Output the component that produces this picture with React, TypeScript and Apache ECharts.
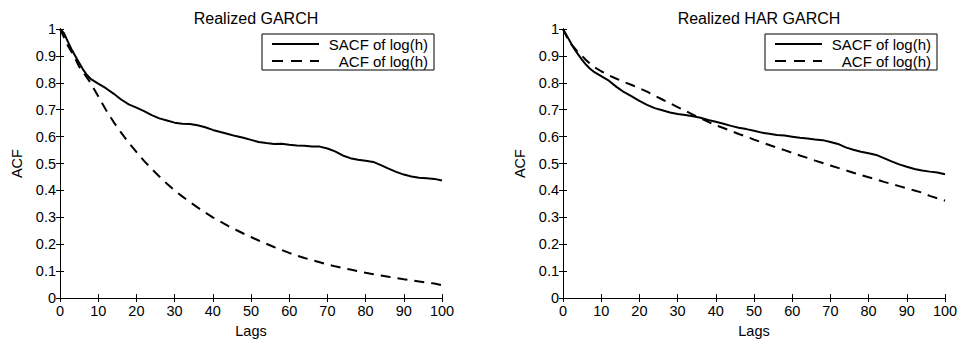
import React, { useEffect, useRef } from "react";
import * as echarts from "echarts";

const lags = [0, 1, 2, 3, 4, 5, 6, 7, 8, 10, 12, 14, 16, 18, 20, 22, 24, 26, 28, 30, 32, 34, 36, 38, 40, 42, 44, 46, 48, 50, 52, 54, 56, 58, 60, 62, 64, 66, 68, 70, 72, 74, 76, 78, 80, 82, 84, 86, 88, 90, 92, 94, 96, 98, 100];

const garchSacf = [1.0, 0.985, 0.955, 0.925, 0.9, 0.875, 0.85, 0.83, 0.815, 0.797, 0.78, 0.76, 0.738, 0.72, 0.708, 0.695, 0.68, 0.668, 0.66, 0.652, 0.648, 0.647, 0.642, 0.635, 0.625, 0.617, 0.61, 0.602, 0.596, 0.588, 0.58, 0.576, 0.573, 0.574, 0.57, 0.567, 0.566, 0.563, 0.563, 0.556, 0.545, 0.53, 0.52, 0.514, 0.51, 0.506, 0.494, 0.481, 0.469, 0.459, 0.452, 0.447, 0.445, 0.443, 0.437];

const garchAcf = [1.0, 0.97, 0.94, 0.915, 0.89, 0.86, 0.84, 0.82, 0.8, 0.75, 0.7, 0.655, 0.615, 0.577, 0.543, 0.51, 0.48, 0.452, 0.425, 0.4, 0.378, 0.357, 0.337, 0.318, 0.3, 0.284, 0.268, 0.254, 0.24, 0.227, 0.214, 0.202, 0.19, 0.179, 0.168, 0.158, 0.149, 0.141, 0.133, 0.125, 0.118, 0.112, 0.106, 0.1, 0.094, 0.089, 0.084, 0.079, 0.075, 0.07, 0.066, 0.062, 0.058, 0.054, 0.048];

const harSacf = [1.0, 0.975, 0.95, 0.925, 0.905, 0.885, 0.868, 0.853, 0.842, 0.825, 0.808, 0.785, 0.765, 0.75, 0.733, 0.718, 0.706, 0.698, 0.69, 0.684, 0.68, 0.676, 0.67, 0.662, 0.655, 0.648, 0.64, 0.633, 0.628, 0.622, 0.615, 0.611, 0.606, 0.604, 0.6, 0.596, 0.593, 0.589, 0.587, 0.58, 0.573, 0.56, 0.551, 0.544, 0.538, 0.532, 0.52, 0.508, 0.497, 0.488, 0.48, 0.474, 0.47, 0.467, 0.46];

const harAcf = [1.0, 0.97, 0.945, 0.93, 0.912, 0.9, 0.885, 0.872, 0.86, 0.843, 0.828, 0.815, 0.803, 0.792, 0.78, 0.767, 0.752, 0.738, 0.724, 0.71, 0.696, 0.682, 0.668, 0.655, 0.642, 0.632, 0.621, 0.61, 0.6, 0.589, 0.579, 0.569, 0.559, 0.55, 0.54, 0.53, 0.521, 0.511, 0.502, 0.493, 0.484, 0.475, 0.466, 0.457, 0.449, 0.441, 0.432, 0.424, 0.416, 0.408, 0.4, 0.392, 0.38, 0.371, 0.362];

const titles = ["Realized GARCH", "Realized HAR GARCH"];
const legendNames = ["SACF of log(h)", "ACF of log(h)"];
const xTitle = "Lags";
const yTitle = "ACF";

const FONT = "Liberation Sans";

export default function App() {
  const ref = useRef<HTMLDivElement>(null);
  useEffect(() => {
    if (!ref.current) return;
    const chart = echarts.init(ref.current, undefined, { renderer: "svg" });
    const grids = [
      { left: 60, top: 29, width: 382, height: 276 },
      { left: 563, top: 29, width: 382, height: 276 },
    ];
    const pair = (ys: number[]) => lags.map((l, i) => [l, ys[i]]);
    const xAxes: any[] = [];
    const yAxes: any[] = [];
    grids.forEach((g, gi) => {
      xAxes.push({
        type: "value", gridIndex: gi, position: "bottom", min: 0, max: 100, interval: 10,
        name: xTitle, nameLocation: "middle", nameGap: 19,
        nameTextStyle: { color: "#000", fontFamily: FONT, fontSize: 14.5 },
        axisLine: { lineStyle: { color: "#000", width: 1 } },
        axisTick: { inside: true, length: 4, lineStyle: { color: "#000" } },
        axisLabel: { color: "#000", fontFamily: FONT, fontSize: 14.5, margin: 5 },
        splitLine: { show: false },
      });
      xAxes.push({
        type: "value", gridIndex: gi, position: "top", min: 0, max: 100, interval: 10,
        axisLine: { lineStyle: { color: "#000", width: 1 } },
        axisTick: { inside: true, length: 4, lineStyle: { color: "#000" } },
        axisLabel: { show: false },
        splitLine: { show: false },
      });
      yAxes.push({
        type: "value", gridIndex: gi, position: "left", min: 0, max: 1, interval: 0.1,
        name: yTitle, nameLocation: "middle", nameGap: 36, nameRotate: 90,
        nameTextStyle: { color: "#000", fontFamily: FONT, fontSize: 14.5 },
        axisLine: { show: true, lineStyle: { color: "#000", width: 1 } },
        axisTick: { show: true, inside: true, length: 4, lineStyle: { color: "#000" } },
        axisLabel: { color: "#000", fontFamily: FONT, fontSize: 14.5, margin: 4 },
        splitLine: { show: false },
      });
      yAxes.push({
        type: "value", gridIndex: gi, position: "right", min: 0, max: 1, interval: 0.1,
        axisLine: { show: true, lineStyle: { color: "#000", width: 1 } },
        axisTick: { show: true, inside: true, length: 4, lineStyle: { color: "#000" } },
        axisLabel: { show: false },
        splitLine: { show: false },
      });
    });
    const dataSets = [
      [garchSacf, garchAcf],
      [harSacf, harAcf],
    ];
    const series: any[] = [];
    dataSets.forEach((ds, gi) => {
      ds.forEach((ys, si) => {
        series.push({
          type: "line",
          name: legendNames[si],
          xAxisIndex: gi * 2,
          yAxisIndex: gi * 2,
          data: pair(ys),
          showSymbol: false,
          symbol: "none",
          lineStyle: { color: "#000", width: 2, type: si === 0 ? "solid" : [10, 7] },
          z: si === 0 ? 3 : 2,
        });
      });
    });
    const graphic: any[] = [];
    grids.forEach((g) => {
      const right = g.left + g.width;
      const bx = right - 180;
      const by = 34;
      graphic.push({
        type: "rect",
        shape: { x: bx, y: by, width: 172, height: 36 },
        style: { fill: "#fff", stroke: "#000", lineWidth: 1 },
        z: 10,
      });
      graphic.push({
        type: "line",
        shape: { x1: bx + 10, y1: by + 10, x2: bx + 57, y2: by + 10 },
        style: { stroke: "#000", lineWidth: 2 },
        z: 11,
      });
      graphic.push({
        type: "line",
        shape: { x1: bx + 10, y1: by + 27, x2: bx + 57, y2: by + 27 },
        style: { stroke: "#000", lineWidth: 2, lineDash: [11, 8] },
        z: 11,
      });
      legendNames.forEach((n, i) => {
        graphic.push({
          type: "text",
          x: bx + 166,
          y: by + 10 + i * 17,
          style: {
            text: n, fill: "#000", font: `15px "${FONT}"`,
            align: "right", verticalAlign: "middle",
          },
          z: 11,
        });
      });
    });
    chart.setOption({
      animation: false,
      backgroundColor: "#fff",
      title: titles.map((t, i) => ({
        text: t,
        left: grids[i].left + grids[i].width / 2,
        top: 5,
        textAlign: "center",
        textStyle: { color: "#000", fontFamily: FONT, fontSize: 16, fontWeight: "normal" },
      })),
      grid: grids,
      xAxis: xAxes,
      yAxis: yAxes,
      series,
      graphic,
    });
    return () => chart.dispose();
  }, []);
  return (
    <div
      ref={ref}
      style={{ position: "absolute", left: 0, top: 0, width: 961, height: 343, background: "#fff" }}
    />
  );
}
